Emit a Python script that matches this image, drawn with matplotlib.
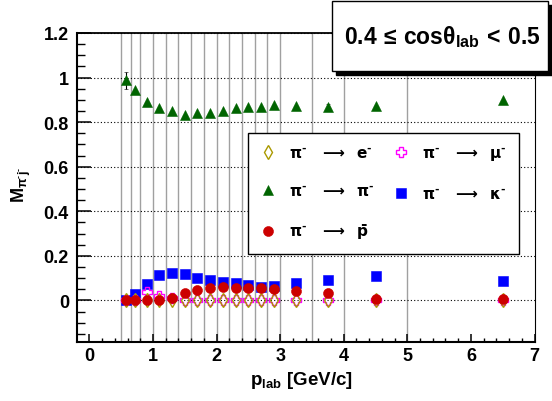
import matplotlib
matplotlib.use('Agg')
import matplotlib.pyplot as plt
from matplotlib.lines import Line2D
from matplotlib.patches import Rectangle
from matplotlib.ticker import MultipleLocator, FuncFormatter
from matplotlib.font_manager import FontProperties

plt.rcParams['font.family'] = ['Liberation Sans', 'DejaVu Sans']
plt.rcParams['font.weight'] = 'bold'
plt.rcParams['mathtext.fontset'] = 'custom'
plt.rcParams['mathtext.rm'] = 'Liberation Sans'
plt.rcParams['mathtext.bf'] = 'Liberation Sans:bold'
plt.rcParams['mathtext.it'] = 'Liberation Sans:italic'
plt.rcParams['mathtext.sf'] = 'Liberation Sans'
plt.rcParams['mathtext.default'] = 'rm'
plt.rcParams['mathtext.fallback'] = 'stix'

# ---------------- data ----------------
p_lab = [0.575, 0.725, 0.9, 1.1, 1.3, 1.5, 1.7, 1.9, 2.1, 2.3, 2.5, 2.7, 2.9,
         3.25, 3.75, 4.5, 6.5]
bin_edges = [0.5, 0.65, 0.8, 1.0, 1.2, 1.4, 1.6, 1.8, 2.0, 2.2, 2.4, 2.6, 2.8,
             3.0, 3.5, 4.0, 5.0]
m_e = [0.0, 0.0, 0.0, 0.0, 0.0, 0.0, 0.0, 0.0, 0.0, 0.0, 0.0, 0.0, 0.0,
       0.0, 0.0, 0.0, 0.0]
m_mu = [0.0, 0.0, 0.037, 0.022, 0.010, 0.003, 0.0, 0.0, 0.0, 0.0, 0.0, 0.0,
        0.0, 0.0, 0.0, 0.004, 0.004]
m_pi = [0.987, 0.944, 0.890, 0.863, 0.852, 0.834, 0.843, 0.839, 0.849, 0.863,
        0.869, 0.870, 0.879, 0.873, 0.866, 0.872, 0.899]
m_pi_err = [0.040, 0.0, 0.0, 0.0, 0.0, 0.0, 0.0, 0.0, 0.0, 0.0, 0.0, 0.0, 0.0,
            0.0, 0.015, 0.0, 0.0]
m_k = [0.002, 0.030, 0.076, 0.114, 0.123, 0.120, 0.102, 0.093, 0.082, 0.078,
       0.070, 0.060, 0.064, 0.077, 0.091, 0.108, 0.087]
m_pbar = [0.0, 0.0, 0.0, 0.002, 0.011, 0.033, 0.045, 0.057, 0.060, 0.056,
          0.056, 0.057, 0.051, 0.042, 0.034, 0.005, 0.005]

x_ticks = [0, 1, 2, 3, 4, 5, 6, 7]
y_ticks = [0, 0.2, 0.4, 0.6, 0.8, 1.0, 1.2]

labels = {
    'e': r'$\pi^{\text{-}}\;\;\;\longrightarrow\;\;\mathbf{e}^{\text{-}}$',
    'mu': r'$\pi^{\text{-}}\;\;\;\longrightarrow\;\;\mathbf{\mu}^{\text{-}}$',
    'pi': r'$\pi^{\text{-}}\;\;\;\longrightarrow\;\;\pi^{\text{-}}$',
    'k': r'$\pi^{\text{-}}\;\;\;\longrightarrow\;\;\mathbf{\kappa}^{\text{-}}$',
    'pbar': r'$\pi^{\text{-}}\;\;\;\longrightarrow\;\;\bar{\mathbf{p}}$',
}

# ---------------- figure ----------------
W, H = 552, 402
fig = plt.figure(figsize=(W / 100, H / 100), dpi=100)
fig.patch.set_facecolor('white')
ax_l, ax_r, ax_t, ax_b = 77.3, 534.5, 34.0, 342.7
ax = fig.add_axes([ax_l / W, (H - ax_b) / H, (ax_r - ax_l) / W, (ax_b - ax_t) / H])

for edge in bin_edges:
    ax.axvline(edge, color='#a0a0a0', lw=1.0, zorder=1)

ax.set_xlim(-0.19, 7.0)
ax.set_ylim(-0.185, 1.2)
ax.set_yticks(y_ticks)
ax.set_xticks(x_ticks)
ax.xaxis.set_minor_locator(MultipleLocator(0.2))
ax.yaxis.set_minor_locator(MultipleLocator(0.05))
fmt = FuncFormatter(lambda v, p: '%g' % round(v, 3))
ax.xaxis.set_major_formatter(fmt)
ax.yaxis.set_major_formatter(fmt)
ax.yaxis.grid(True, which='major', linestyle=(0, (1, 2)), color='black', lw=0.8, zorder=1.5)
ax.set_axisbelow(False)

ax.tick_params(axis='x', which='major', direction='in', length=5.8, width=1.1,
               top=False, labelsize=13, pad=4)
ax.tick_params(axis='x', which='minor', direction='in', length=2.9, width=1.0, top=False)
ax.tick_params(axis='y', which='major', direction='in', length=10, width=1.1,
               right=False, labelsize=13, pad=6)
ax.tick_params(axis='y', which='minor', direction='in', length=5.4, width=1.0, right=False)
for lab in ax.get_xticklabels() + ax.get_yticklabels():
    lab.set_fontweight('bold')

for side, lw in (('left', 1.5), ('bottom', 1.5), ('top', 1.3), ('right', 0.8)):
    ax.spines[side].set_linewidth(lw)
    ax.spines[side].set_zorder(5)

# data series
ax.errorbar(p_lab, m_pi, yerr=m_pi_err, fmt='^', color='#006400', ms=7.5, mew=0.4,
            ecolor='black', elinewidth=0.8, capsize=1.5, zorder=3, label=labels['pi'])
ax.plot(p_lab, m_k, 's', color='#0000ff', ms=7.2, mew=0.4, zorder=3, label=labels['k'])
ax.plot(p_lab, m_mu, 'P', mfc='none', mec='#ff00ff', ms=7.4, mew=1.0, zorder=4,
        label=labels['mu'])
ax.plot(p_lab, m_e, 'd', mfc='none', mec='#aa9900', ms=7.4, mew=1.0, zorder=4,
        label=labels['e'])
ax.plot(p_lab, m_pbar, 'o', color='#cc0000', ms=7.2, mew=0.4, zorder=5,
        label=labels['pbar'])

ax.set_xlabel(r'$\mathbf{p}_{\mathbf{lab}}$ [GeV/c]', fontsize=13.5, fontweight='bold')
ax.xaxis.set_label_coords(0.491, -0.088)
ax.set_ylabel(r'$\mathbf{M}_{\pi^{\text{-}}\mathbf{j}^{\text{-}}}$', fontsize=13,
              fontweight='bold', va='center')
ax.yaxis.set_label_coords(-0.123, 0.51)

# legend
h_e = Line2D([], [], ls='none', marker='d', mfc='none', mec='#aa9900', ms=7.4, mew=1.0)
h_mu = Line2D([], [], ls='none', marker='P', mfc='none', mec='#ff00ff', ms=7.4, mew=1.0)
h_pi = Line2D([], [], ls='none', marker='^', color='#006400', ms=7.5, mew=0.4)
h_k = Line2D([], [], ls='none', marker='s', color='#0000ff', ms=7.2, mew=0.4)
h_pb = Line2D([], [], ls='none', marker='o', color='#cc0000', ms=7.2, mew=0.4)
leg_font = FontProperties(family='DejaVu Sans', weight='normal', size=11,
                          math_fontfamily='dejavusans')
leg = ax.legend([h_e, h_pi, h_pb, h_mu, h_k],
                [labels['e'], labels['pi'], labels['pbar'], labels['mu'], labels['k']],
                ncol=2, loc='upper left', bbox_to_anchor=(0.373, 0.676),
                borderaxespad=0, prop=leg_font, frameon=True,
                fancybox=False, edgecolor='black', framealpha=1, borderpad=0.8,
                labelspacing=1.5, handlelength=1.0, handletextpad=0.9,
                columnspacing=1.2)
leg.get_frame().set_linewidth(1.0)
leg.set_zorder(6)

# title box with shadow
bx0, by0, bx1, by1 = 332, 2, 548, 72
fig.patches.append(Rectangle(((bx0 + 4) / W, (H - by1 - 4) / H), (bx1 - bx0) / W,
                             (by1 - by0) / H, transform=fig.transFigure,
                             facecolor='black', edgecolor='black', zorder=10))
fig.patches.append(Rectangle((bx0 / W, (H - by1) / H), (bx1 - bx0) / W,
                             (by1 - by0) / H, transform=fig.transFigure,
                             facecolor='white', edgecolor='black', lw=1.0, zorder=11))
fig.text((bx0 + bx1) / 2 / W + 0.004, 1 - 37 / H,
         r'$\mathbf{0.4}\,\leq\,\mathbf{cos}\theta_{\mathbf{lab}}\,<\,\mathbf{0.5}$',
         ha='center', va='center', fontsize=16.5, zorder=12)

fig.savefig('out.png', dpi=100, facecolor='white')
